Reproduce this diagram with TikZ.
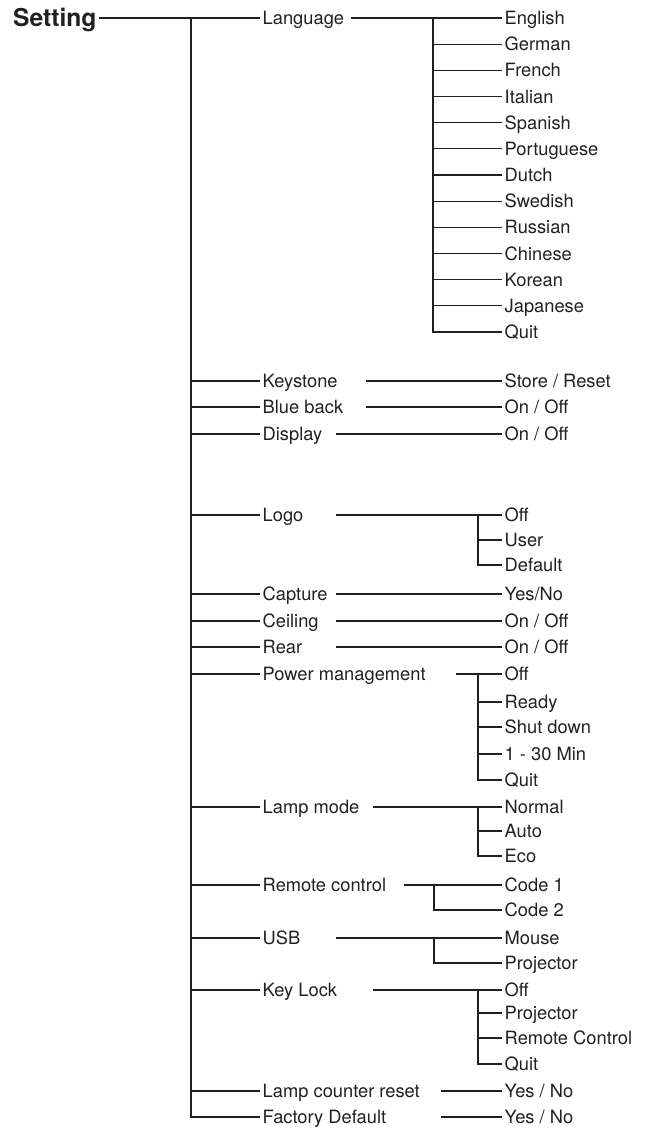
\documentclass[tikz,border=0pt]{standalone}
\usepackage{fontspec}
\setmainfont{TeX Gyre Heros}
\definecolor{ink}{RGB}{35,31,32}
\begin{document}
\begin{tikzpicture}[x=1pt,y=-1pt,
  lbl/.style={anchor=west,inner xsep=2.5pt,inner ysep=0pt,text height=13.1pt,text depth=0pt,text=ink,font=\fontsize{18.3}{21}\selectfont},
  head/.style={anchor=west,inner xsep=2.5pt,inner ysep=0pt,text height=17.7pt,text depth=0pt,text=ink,font=\fontsize{24.6}{28}\selectfont\bfseries},
  conn/.style={line width=1.1pt,draw=ink}]
\useasboundingbox (0,0) rectangle (652,1129);
% root
\node[head] (set) at (10.5,18) {Setting};
\node[lbl] (lang) at (260,18) {Language};
\draw[conn] (set.east) -- (lang.west);
\coordinate (t0) at (191,18);
% level 1
\node[lbl] (ks) at (260,381) {Keystone};
\node[lbl] (bb) at (260,407) {Blue back};
\node[lbl] (dp) at (260,434) {Display};
\node[lbl] (lg) at (260,515) {Logo};
\node[lbl] (cp) at (260,594) {Capture};
\node[lbl] (ce) at (260,621) {Ceiling};
\node[lbl] (re) at (260,647) {Rear};
\node[lbl] (pm) at (260,674) {Power management};
\node[lbl] (lm) at (260,807) {Lamp mode};
\node[lbl] (rc) at (260,885) {Remote control};
\node[lbl] (us) at (260,938) {USB};
\node[lbl] (kl) at (260,990) {Key Lock};
\node[lbl] (lc) at (260,1091) {Lamp counter reset};
\node[lbl] (fd) at (260,1117) {Factory Default};
\draw[conn] (t0) |- (fd.west);
\foreach \n in {ks,bb,dp,lg,cp,ce,re,pm,lm,rc,us,kl,lc}
  \draw[conn] (t0 |- \n.west) -- (\n.west);
% language leaves
\foreach \t [count=\i] in {English,German,French,Italian,Spanish,Portuguese,Dutch,Swedish,Russian,Chinese,Korean,Japanese,Quit}
  \node[lbl] (L\i) at ({502},{18+(\i-1)*26.17}) {\t};
\coordinate (l0) at (351,18);
\coordinate (lb) at (433,18);
\draw[conn] (l0) -- (L1.west);
\draw[conn] (lb) |- (L13.west);
\foreach \i in {2,...,12}
  \draw[conn] (lb |- L\i.west) -- (L\i.west);
% single leaves
\node[lbl] (ksv) at (502,381) {Store / Reset};
\node[lbl] (bbv) at (502,407) {On / Off};
\node[lbl] (dpv) at (502,434) {On / Off};
\node[lbl] (cpv) at (502,594) {Yes/No};
\node[lbl] (cev) at (502,621) {On / Off};
\node[lbl] (rev) at (502,647) {On / Off};
\node[lbl] (lcv) at (502,1091) {Yes / No};
\node[lbl] (fdv) at (502,1117) {Yes / No};
\coordinate (ks0) at (366,381);
\coordinate (bb0) at (366,407);
\coordinate (dp0) at (336,434);
\coordinate (cp0) at (336,594);
\coordinate (ce0) at (336,621);
\coordinate (re0) at (336,647);
\coordinate (lc0) at (441,1091);
\coordinate (fd0) at (441,1117);
\foreach \n in {ks,bb,dp,cp,ce,re,lc,fd}
  \draw[conn] (\n0) -- (\n v.west);
% Logo
\node[lbl] (lg1) at (502,515) {Off};
\node[lbl] (lg2) at (502,540) {User};
\node[lbl] (lg3) at (502,565) {Default};
\coordinate (lg0) at (336,515);
\coordinate (lgb) at (478,515);
\draw[conn] (lg0) -- (lg1.west);
\draw[conn] (lgb) |- (lg3.west);
\draw[conn] (lgb |- lg2.west) -- (lg2.west);
% Power management
\node[lbl] (pm1) at (502,674) {Off};
\node[lbl] (pm2) at (502,702) {Ready};
\node[lbl] (pm3) at (502,727) {Shut down};
\node[lbl] (pm4) at (502,754) {1 - 30 Min};
\node[lbl] (pm5) at (502,780) {Quit};
\coordinate (pm0) at (456,674);
\coordinate (pmb) at (478,674);
\draw[conn] (pm0) -- (pm1.west);
\draw[conn] (pmb) |- (pm5.west);
\foreach \i in {2,3,4}
  \draw[conn] (pmb |- pm\i.west) -- (pm\i.west);
% Lamp mode
\node[lbl] (lm1) at (502,807) {Normal};
\node[lbl] (lm2) at (502,831) {Auto};
\node[lbl] (lm3) at (502,856) {Eco};
\coordinate (lm0) at (373,807);
\coordinate (lmb) at (478,807);
\draw[conn] (lm0) -- (lm1.west);
\draw[conn] (lmb) |- (lm3.west);
\draw[conn] (lmb |- lm2.west) -- (lm2.west);
% Remote control
\node[lbl] (rc1) at (502,885) {Code 1};
\node[lbl] (rc2) at (502,910) {Code 2};
\coordinate (rc0) at (404,885);
\coordinate (rcb) at (434,885);
\draw[conn] (rc0) -- (rc1.west);
\draw[conn] (rcb) |- (rc2.west);
% USB
\node[lbl] (us1) at (502,938) {Mouse};
\node[lbl] (us2) at (502,963) {Projector};
\coordinate (us0) at (336,938);
\coordinate (usb) at (434,938);
\draw[conn] (us0) -- (us1.west);
\draw[conn] (usb) |- (us2.west);
% Key Lock
\node[lbl] (kl1) at (502,990) {Off};
\node[lbl] (kl2) at (502,1013) {Projector};
\node[lbl] (kl3) at (502,1038) {Remote Control};
\node[lbl] (kl4) at (502,1064) {Quit};
\coordinate (kl0) at (373,990);
\coordinate (klb) at (478,990);
\draw[conn] (kl0) -- (kl1.west);
\draw[conn] (klb) |- (kl4.west);
\foreach \i in {2,3}
  \draw[conn] (klb |- kl\i.west) -- (kl\i.west);
\end{tikzpicture}
\end{document}
